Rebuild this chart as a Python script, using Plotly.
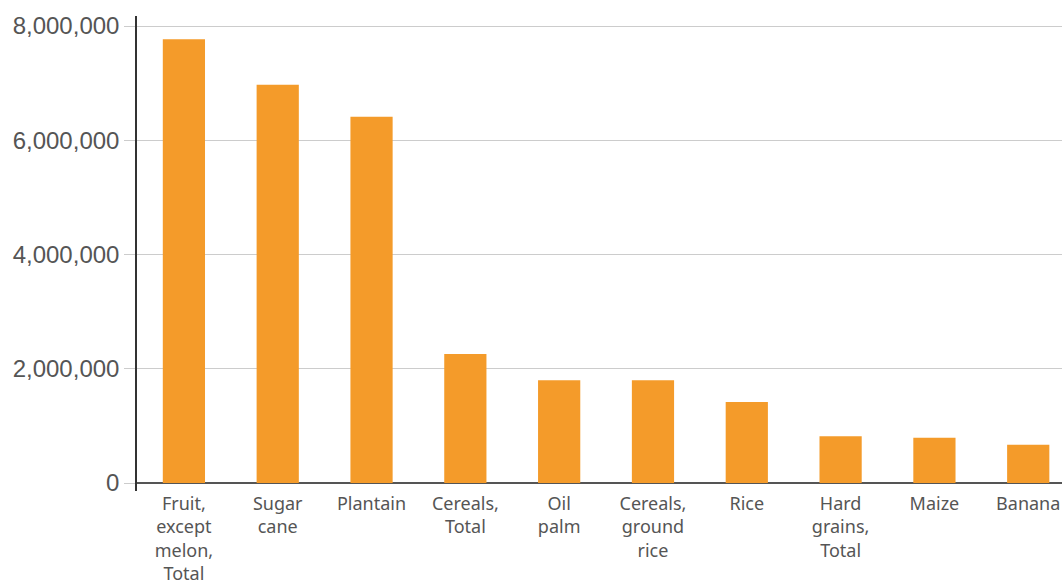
import plotly.graph_objects as go

categories = ["Fruit,<br>except<br>melon,<br>Total", "Sugar<br>cane", "Plantain", "Cereals,<br>Total",
              "Oil<br>palm", "Cereals,<br>ground<br>rice", "Rice", "Hard<br>grains,<br>Total", "Maize", "Banana"]
values = [7770000, 6970000, 6410000, 2260000, 1800000, 1800000, 1420000, 820000, 790000, 670000]
tick_vals = [0, 2000000, 4000000, 6000000, 8000000]
tick_text = ["0", "2,000,000", "4,000,000", "6,000,000", "8,000,000"]

fig = go.Figure(go.Bar(x=list(range(len(categories))), y=values, marker_color="#F49B2A",
                       marker_line_width=0))

xfont = dict(family="Noto Sans, sans-serif", size=18, color="#555555")
yfont = dict(family="Liberation Sans, Arial, sans-serif", size=24, color="#555555")
fig.update_layout(
    width=1062, height=585,
    margin=dict(l=137, r=0, t=16, b=94),
    plot_bgcolor="white", paper_bgcolor="white",
    bargap=0.55, showlegend=False, font=xfont,
    xaxis=dict(tickmode="array", tickvals=list(range(len(categories))), ticktext=categories,
               range=[-0.5, 9.36], showgrid=False, showline=False, ticks="", zeroline=False,
               tickfont=xfont, automargin=False, ticklabeloverflow="allow"),
    yaxis=dict(tickmode="array", tickvals=tick_vals, ticktext=tick_text,
               range=[-140000, 8175000], showgrid=True, gridcolor="#cccccc", gridwidth=1,
               ticks="outside", ticklen=11, tickcolor="#cccccc", tickwidth=1,
               showline=True, linecolor="#333333", linewidth=1.5,
               zeroline=True, zerolinecolor="#555555", zerolinewidth=1.5,
               tickfont=yfont, automargin=False),
)
fig.write_html("out.html")
